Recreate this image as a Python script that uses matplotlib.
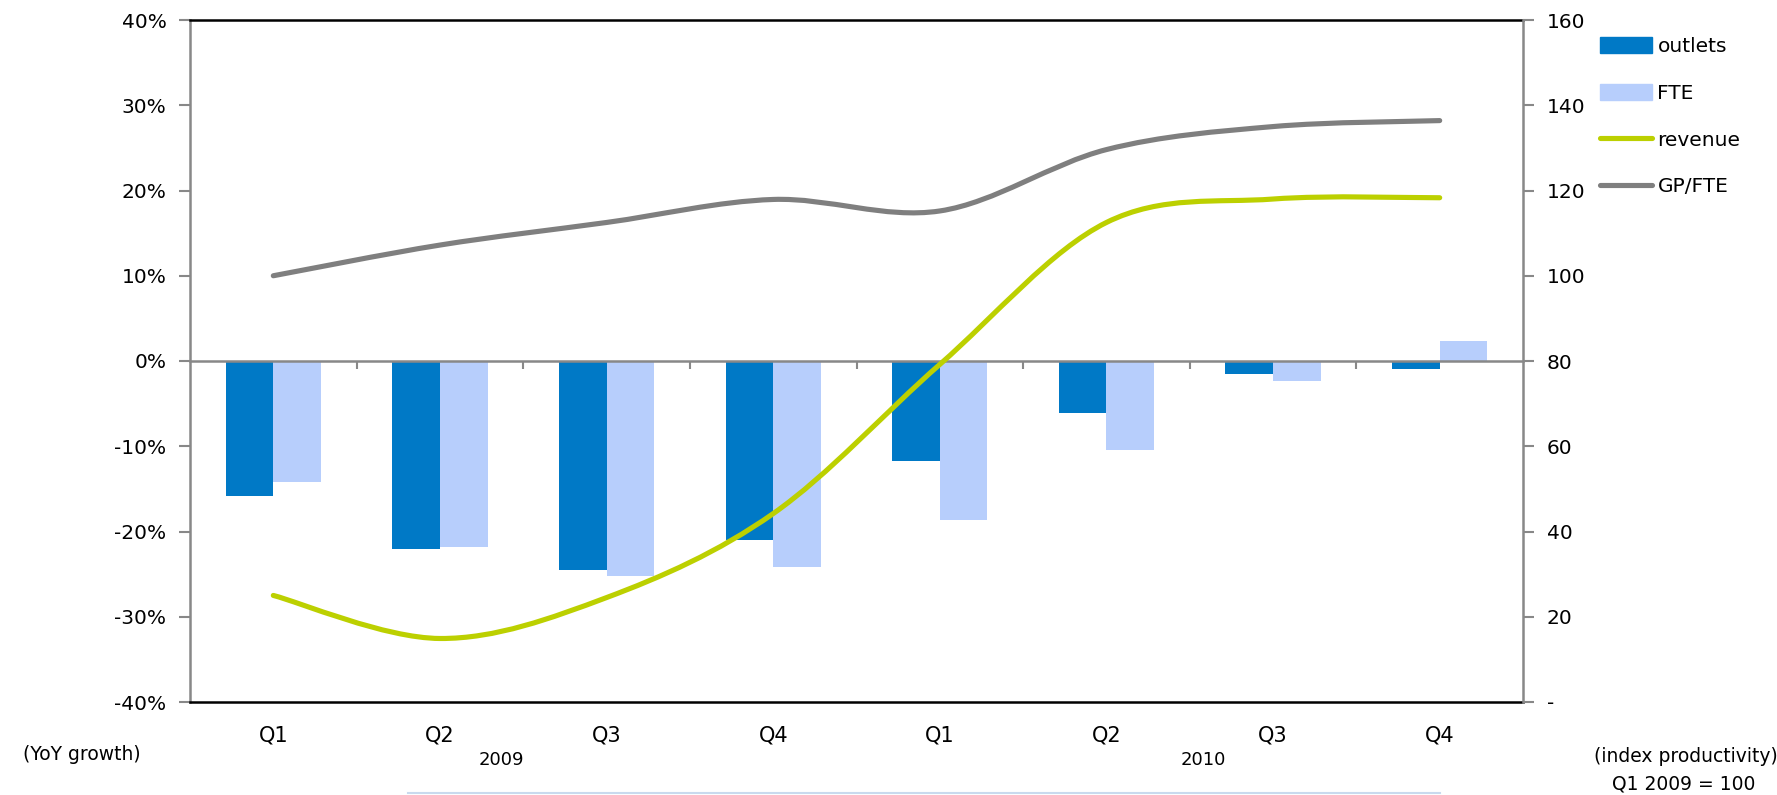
import numpy as np
import matplotlib
matplotlib.use('Agg')
import matplotlib.pyplot as plt
from matplotlib.path import Path
from matplotlib.patches import PathPatch, Patch
from matplotlib.lines import Line2D
from matplotlib.ticker import FuncFormatter

# data
quarters = ['Q1', 'Q2', 'Q3', 'Q4', 'Q1', 'Q2', 'Q3', 'Q4']
years = ['2009', '2010']
outlets = [-15.8, -22.0, -24.5, -21.0, -11.7, -6.1, -1.5, -0.9]      # % YoY
fte = [-14.2, -21.8, -25.2, -24.2, -18.6, -10.4, -2.4, 2.3]          # % YoY
revenue = [25.0, 14.9, 24.5, 44.2, 79.2, 112.5, 118.0, 118.3]        # index
gp_fte = [100.0, 107.2, 112.5, 117.9, 115.2, 129.6, 135.0, 136.4]    # index

C_OUT = '#0079C6'
C_FTE = '#B7CEFC'
C_REV = '#BCD000'
C_GP = '#7F7F7F'
GRID = '#888888'


def smooth_path(xs, ys):
    # excel style smoothed line: cubic bezier through every point
    n = len(xs)
    verts = [(xs[0], ys[0])]
    codes = [Path.MOVETO]
    for i in range(n - 1):
        a = max(i - 1, 0)
        b = min(i + 2, n - 1)
        c1 = (xs[i] + (xs[i + 1] - xs[a]) / 6.0, ys[i] + (ys[i + 1] - ys[a]) / 6.0)
        c2 = (xs[i + 1] - (xs[b] - xs[i]) / 6.0, ys[i + 1] - (ys[b] - ys[i]) / 6.0)
        verts += [c1, c2, (xs[i + 1], ys[i + 1])]
        codes += [Path.CURVE4] * 3
    return Path(verts, codes)


W, H = 1777, 795
fig = plt.figure(figsize=(W / 100, H / 100), dpi=100)
ax = fig.add_axes([190 / W, 1 - 702 / H, (1523 - 190) / W, (702 - 20) / H])

x = np.arange(len(quarters))
bw = 0.286
ax.bar(x - bw / 2, outlets, bw, color=C_OUT, zorder=2)
ax.bar(x + bw / 2, fte, bw, color=C_FTE, zorder=2)

ax.set_xlim(-0.5, len(quarters) - 0.5)
ax.set_ylim(-40, 40)
ax.set_yticks(np.arange(-40, 41, 10))
ax.yaxis.set_major_formatter(FuncFormatter(lambda v, p: '%d%%' % int(round(v))))
ax.set_xticks(x)
ax.set_xticklabels(quarters)
ax.tick_params(axis='x', length=0, labelsize=15, pad=17)
ax.tick_params(axis='y', length=8, width=1.5, color=GRID, labelsize=14.5, pad=9)

ax.spines['left'].set_color(GRID)
ax.spines['left'].set_linewidth(1.8)
ax.spines['right'].set_visible(False)
for s in ['top', 'bottom']:
    ax.spines[s].set_color('black')
    ax.spines[s].set_linewidth(1.8)

# category axis crossing at 0%
sec = ax.secondary_xaxis(0.4999)
sec.set_xticks(np.arange(0.5, len(quarters) - 1, 1))
sec.tick_params(axis='x', length=6, width=1.5, color=GRID, direction='out',
                bottom=True, top=False, labelbottom=False, labeltop=False)
for s in sec.spines.values():
    s.set_color(GRID)
    s.set_linewidth(1.8)
sec.set_zorder(3)

ax2 = ax.twinx()
ax2.set_ylim(0, 160)
ax2.set_yticks(np.arange(0, 161, 20))
ax2.yaxis.set_major_formatter(FuncFormatter(lambda v, p: '-' if v == 0 else '%d' % v))
ax2.tick_params(axis='y', length=8, width=1.5, color=GRID, labelsize=14.5, pad=9)
for s in ['top', 'bottom', 'left']:
    ax2.spines[s].set_visible(False)
ax2.spines['right'].set_color(GRID)
ax2.spines['right'].set_linewidth(1.8)

for vals, col in [(gp_fte, C_GP), (revenue, C_REV)]:
    ax2.add_patch(PathPatch(smooth_path(x, vals), fill=False, edgecolor=col,
                            lw=3.7, capstyle='round', joinstyle='round'))

handles = [Patch(color=C_OUT), Patch(color=C_FTE),
           Line2D([], [], color=C_REV, lw=3.7, solid_capstyle='round'),
           Line2D([], [], color=C_GP, lw=3.7, solid_capstyle='round')]
fig.legend(handles, ['outlets', 'FTE', 'revenue', 'GP/FTE'], loc='upper left',
           bbox_to_anchor=(1592 / W, 1 - 29 / H), frameon=False, fontsize=14.5,
           handlelength=2.6, handleheight=0.8, labelspacing=1.38, handletextpad=0.25,
           borderaxespad=0)

# year labels under the quarters
ax.text(1.37, -0.085, years[0], transform=ax.get_xaxis_transform(), ha='center', va='center', fontsize=13)
ax.text(5.58, -0.085, years[1], transform=ax.get_xaxis_transform(), ha='center', va='center', fontsize=13)

fig.text(82 / W, 1 - 754 / H, '(YoY growth)', ha='center', va='center', fontsize=13.5)
fig.text(1686 / W, 1 - 757 / H, '(index productivity)', ha='center', va='center', fontsize=13.5)
fig.text(1684 / W, 1 - 784 / H, 'Q1 2009 = 100', ha='center', va='center', fontsize=13.5)

fig.add_artist(Line2D([408 / W, 1440 / W], [1 - 793 / H, 1 - 793 / H], color='#C9DAEE', lw=1.5))

fig.savefig('out.png', dpi=100)
